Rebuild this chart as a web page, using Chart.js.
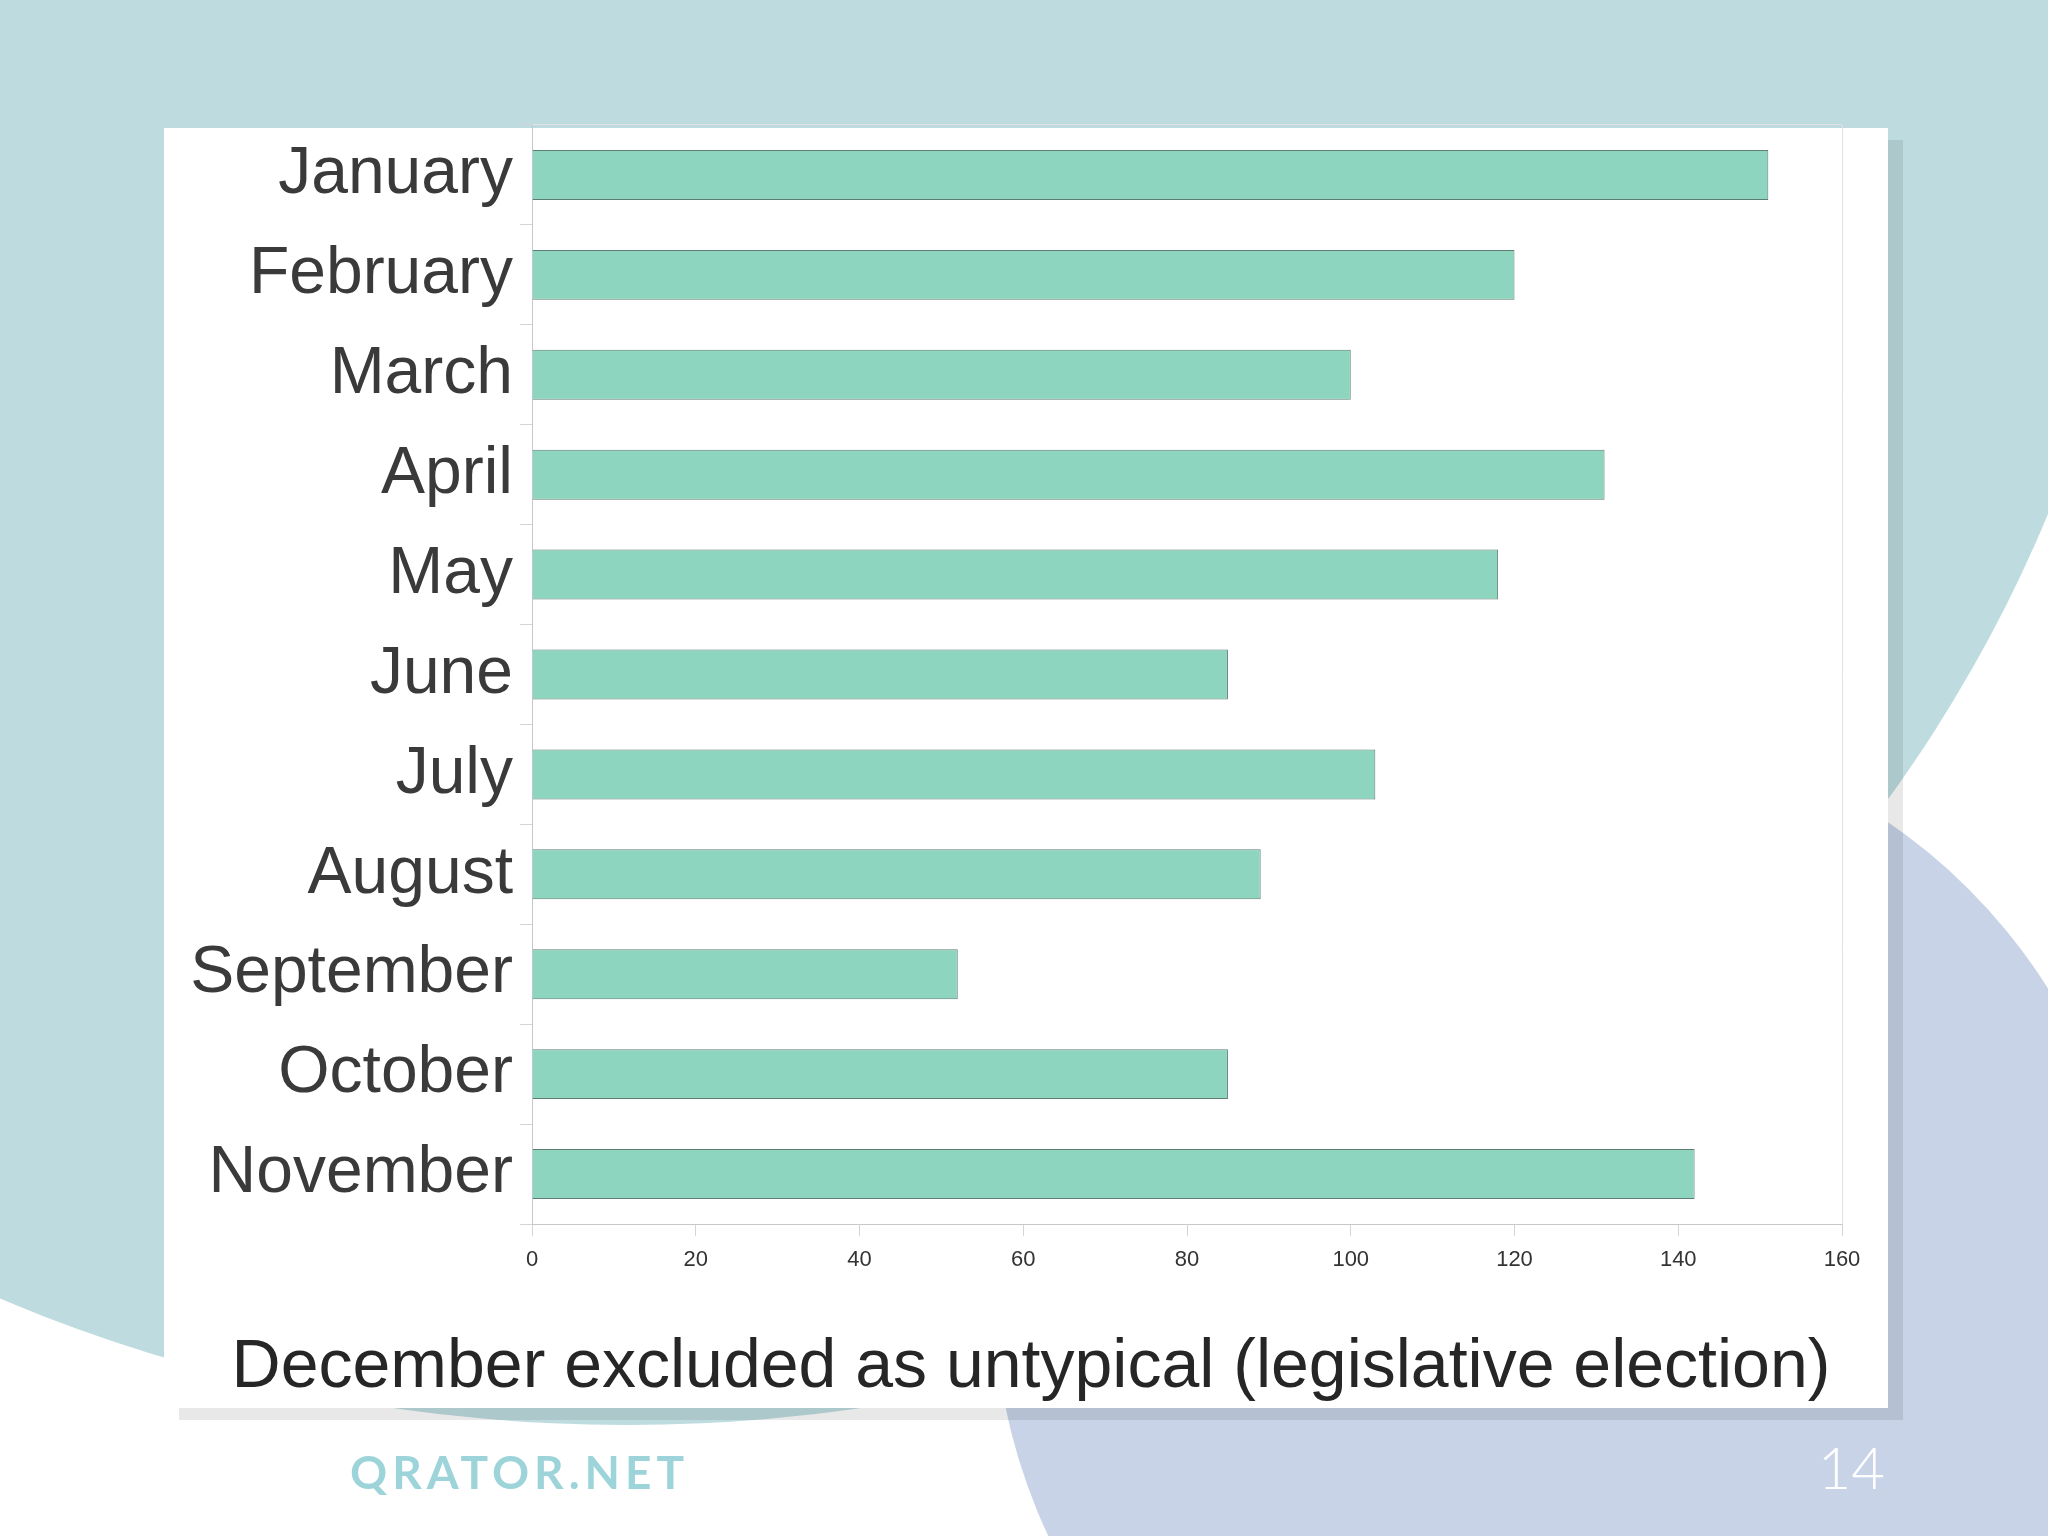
<!DOCTYPE html>
<html>
<head>
<meta charset="utf-8">
<title>Monthly counts</title>
<script src="https://cdn.jsdelivr.net/npm/chart.js@4.4.1/dist/chart.umd.min.js"></script>
<style>
  html, body { margin: 0; padding: 0; }
  body { width: 2048px; height: 1536px; position: relative; overflow: hidden; background: #fff; }
  .blob-teal { position: absolute; left: -898px; top: -1435px; width: 3050px; height: 2860px; border-radius: 50%; background: #bedcdf; }
  .blob-blue { position: absolute; left: 994px; top: 722px; width: 1142px; height: 1142px; border-radius: 50%; background: #c8d3e8; }
  .panel { position: absolute; left: 164px; top: 128px; width: 1724px; height: 1280px; background: #fff; box-shadow: 15px 12px 0 rgba(0, 0, 0, 0.09); }
  #chart { position: absolute; left: 0; top: 0; }
  .caption { position: absolute; left: 1031px; top: 1323px; transform: translateX(-50%); white-space: nowrap;
             font: 68px "Liberation Sans", Arial, sans-serif; line-height: 80px; color: #262626; }
  .brand { position: absolute; left: 350px; top: 1444px; font: 700 46px Lato, sans-serif; color: #9dd4d9; letter-spacing: 5px; line-height: 56px; }
  .page { position: absolute; right: 163px; top: 1436px; font: 300 58px Lato, sans-serif; color: #fff; line-height: 62px; }
</style>
</head>
<body>
<div class="blob-teal"></div>
<div class="blob-blue"></div>
<div class="panel"></div>
<canvas id="chart" width="2048" height="1536"></canvas>
<div class="caption" id="caption"></div>
<div class="brand">QRATOR.NET</div>
<div class="page">14</div>
<script>
// values
const months = ['January', 'February', 'March', 'April', 'May', 'June',
                'July', 'August', 'September', 'October', 'November'];
const counts = [151, 120, 100, 131, 118, 85, 103, 89, 52, 85, 142];
const xTicks = [0, 20, 40, 60, 80, 100, 120, 140, 160];
const caption = 'December excluded as untypical (legislative election)';

document.getElementById('caption').textContent = caption;

Chart.defaults.font.family = '"Liberation Sans", Arial, sans-serif';

const frameColor = '#e2e2e6';
const axisColor = '#c8c8cc';
const tickMarkColor = '#d4d4d8';

const ctx = document.getElementById('chart').getContext('2d');
new Chart(ctx, {
    type: 'bar',
    data: {
        labels: months,
        datasets: [{
            data: counts,
            backgroundColor: '#8dd5bf',
            borderColor: '#5e7d73',
            borderWidth: 1,
            barPercentage: 0.5,
            categoryPercentage: 1
        }]
    },
    options: {
        indexAxis: 'y',
        responsive: false,
        animation: false,
        layout: { padding: { left: 150, right: 206, top: 125, bottom: 217 } },
        plugins: {
            legend: { display: false },
            tooltip: { enabled: false }
        },
        scales: {
            x: {
                min: xTicks[0],
                max: xTicks[xTicks.length - 1],
                ticks: { stepSize: xTicks[1] - xTicks[0], color: '#333', font: { size: 22 }, padding: 11 },
                grid: {
                    // only the right edge of the frame shows inside the plot
                    color: c => (c.tick && c.tick.value === xTicks[xTicks.length - 1]) ? frameColor : 'transparent',
                    tickColor: tickMarkColor,
                    tickLength: 12
                },
                border: { color: axisColor },
                afterFit: s => { s.height = 95; }
            },
            y: {
                ticks: { color: '#3a3a3a', font: { size: 66 }, padding: 7 },
                grid: {
                    // top boundary line doubles as the frame top
                    color: c => c.index === 0 ? frameColor : 'transparent',
                    tickColor: tickMarkColor,
                    tickLength: 12
                },
                border: { color: axisColor },
                afterFit: s => { s.width = 382; }
            }
        }
    }
});
</script>
</body>
</html>
